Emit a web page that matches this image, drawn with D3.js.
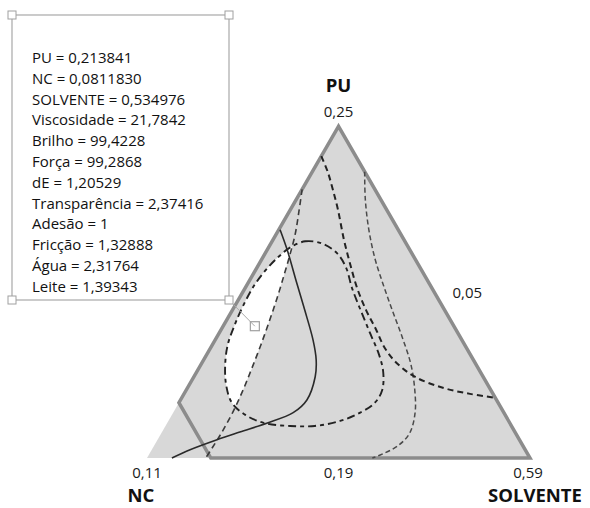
<!DOCTYPE html>
<html>
<head>
<meta charset="utf-8">
<script src="https://cdn.jsdelivr.net/npm/d3@7"></script>
<style>
  html, body { margin: 0; padding: 0; background: #fff; }
  svg { display: block; font-family: "Open Sans", "Noto Sans", sans-serif; }
</style>
</head>
<body>
<svg id="chart" width="590" height="508"></svg>
<script>
// Mixture components (amounts sum to a fixed total)
const components = ["PU", "NC", "SOLVENTE"];
const lowerBounds = [0.19, 0.05, 0.53];
const upperBounds = [0.25, 0.11, 0.59];
const vertexTickLabels = ["0,25", "0,11", "0,59"];
const edgeTickLabels = ["0,19", "0,05"];

// Feasible region of the design: NC <= 0.10
const constraintRegion = [
  [0.25, 0.05, 0.53], [0.20, 0.10, 0.53], [0.19, 0.10, 0.54], [0.19, 0.05, 0.59]
];

// Contour lines, points given as [PU, NC, SOLVENTE]
const solidContour = [
  [0.2313, 0.0685, 0.5302], [0.2277, 0.0692, 0.5331], [0.2217, 0.0707, 0.5376],
  [0.2168, 0.0719, 0.5413], [0.2114, 0.0733, 0.5453], [0.2078, 0.0746, 0.5476],
  [0.2047, 0.0763, 0.5490], [0.2005, 0.0797, 0.5498], [0.1982, 0.0830, 0.5488],
  [0.1963, 0.0881, 0.5456], [0.1947, 0.0931, 0.5422], [0.1933, 0.0974, 0.5393],
  [0.1915, 0.1025, 0.5360], [0.1900, 0.1061, 0.5339]
];
const loopContour = [
  [0.2281, 0.0685, 0.5334], [0.2292, 0.0656, 0.5352], [0.2288, 0.0632, 0.5380],
  [0.2270, 0.0617, 0.5413], [0.2244, 0.0616, 0.5440], [0.2208, 0.0625, 0.5467],
  [0.2165, 0.0632, 0.5503], [0.2123, 0.0638, 0.5539], [0.2087, 0.0643, 0.5570],
  [0.2056, 0.0652, 0.5592], [0.2023, 0.0670, 0.5607], [0.2000, 0.0693, 0.5607],
  [0.1982, 0.0725, 0.5593], [0.1967, 0.0764, 0.5569], [0.1958, 0.0808, 0.5534],
  [0.1958, 0.0847, 0.5495], [0.1963, 0.0884, 0.5453], [0.1978, 0.0907, 0.5415],
  [0.2000, 0.0917, 0.5383], [0.2032, 0.0910, 0.5358], [0.2069, 0.0893, 0.5338],
  [0.2105, 0.0871, 0.5324], [0.2141, 0.0842, 0.5317], [0.2174, 0.0813, 0.5313],
  [0.2214, 0.0774, 0.5312], [0.2244, 0.0739, 0.5317], [0.2266, 0.0709, 0.5325]
];
const leftDashContour = [
  [0.2386, 0.0614, 0.5300], [0.2346, 0.0639, 0.5315], [0.2304, 0.0666, 0.5330],
  [0.2268, 0.0692, 0.5340], [0.2232, 0.0719, 0.5349], [0.2190, 0.0751, 0.5359],
  [0.2147, 0.0785, 0.5368], [0.2105, 0.0819, 0.5376], [0.2063, 0.0854, 0.5383],
  [0.2023, 0.0888, 0.5389], [0.1983, 0.0924, 0.5393], [0.1947, 0.0959, 0.5394],
  [0.1918, 0.0989, 0.5393], [0.1900, 0.1008, 0.5392]
];
const apexDashContour = [
  [0.2446, 0.0554, 0.5300], [0.2418, 0.0558, 0.5324], [0.2386, 0.0566, 0.5348],
  [0.2350, 0.0576, 0.5374], [0.2295, 0.0594, 0.5411], [0.2252, 0.0606, 0.5442],
  [0.2208, 0.0617, 0.5475], [0.2168, 0.0623, 0.5509], [0.2132, 0.0625, 0.5543],
  [0.2099, 0.0628, 0.5573], [0.2072, 0.0623, 0.5605], [0.2047, 0.0607, 0.5646],
  [0.2027, 0.0573, 0.5700], [0.2016, 0.0536, 0.5748], [0.2009, 0.0500, 0.5791]
];
const rightDashContour = [
  [0.2418, 0.0500, 0.5382], [0.2368, 0.0524, 0.5408], [0.2313, 0.0546, 0.5441],
  [0.2259, 0.0563, 0.5478], [0.2214, 0.0573, 0.5513], [0.2168, 0.0582, 0.5550],
  [0.2118, 0.0591, 0.5591], [0.2069, 0.0602, 0.5629], [0.2023, 0.0619, 0.5658],
  [0.1982, 0.0639, 0.5679], [0.1945, 0.0666, 0.5689], [0.1922, 0.0696, 0.5682],
  [0.1905, 0.0733, 0.5662], [0.1900, 0.0747, 0.5653]
];

// Response readout at the selected point
const infoLabels = ["PU", "NC", "SOLVENTE", "Viscosidade", "Brilho", "Força", "dE",
  "Transparência", "Adesão", "Fricção", "Água", "Leite"];
const infoValues = ["0,213841", "0,0811830", "0,534976", "21,7842", "99,4228", "99,2868",
  "1,20529", "2,37416", "1", "1,32888", "2,31764", "1,39343"];
const selectedPoint = [0.213841, 0.0811830, 0.534976];

// ---- layout ----
const svg = d3.select("#chart");
const left = 147, right = 530, base = 458;
const side = right - left;
const h = Math.sqrt(3) / 2;

const pseudo = components.map((c, i) =>
  d3.scaleLinear().domain([lowerBounds[i], upperBounds[i]]).range([0, 1]));
const xScale = d3.scaleLinear().domain([0, 1]).range([left, right]);
const yScale = d3.scaleLinear().domain([0, h]).range([base, base - side * h]);

function project(d) {
  const p = pseudo[0](d[0]), n = pseudo[1](d[1]), s = pseudo[2](d[2]);
  const sum = p + n + s;
  return [xScale((s + p / 2) / sum), yScale((p * h) / sum)];
}

const lineOpen = d3.line().x(d => project(d)[0]).y(d => project(d)[1]).curve(d3.curveCatmullRom.alpha(0.5));
const lineClosed = d3.line().x(d => project(d)[0]).y(d => project(d)[1]).curve(d3.curveCatmullRomClosed.alpha(0.5));
const linePoly = d3.line().x(d => project(d)[0]).y(d => project(d)[1]);

// Simplex vertices (each component at its upper bound)
const vertices = components.map((c, i) =>
  lowerBounds.map((lb, j) => j === i ? upperBounds[j] : lb));
const [apex, vNC, vSOL] = vertices.map(project);

// full simplex background
svg.append("path")
  .attr("d", linePoly(vertices) + "Z")
  .attr("fill", "#d8d8d8");

// region where all responses meet their limits
const defs = svg.append("defs");
defs.append("clipPath").attr("id", "leftOfDash")
  .append("path")
  .attr("d", linePoly(leftDashContour.concat([vertices[1]])) + "Z");
svg.append("path")
  .attr("d", lineClosed(loopContour))
  .attr("fill", "#ffffff")
  .attr("clip-path", "url(#leftOfDash)");

// design region outline
svg.append("path")
  .attr("d", linePoly(constraintRegion) + "Z")
  .attr("fill", "none")
  .attr("stroke", "#8c8c8c")
  .attr("stroke-width", 3.5)
  .attr("stroke-linejoin", "miter");

// contour lines
const contourStyles = [
  { data: rightDashContour, closed: false, color: "#4a4a4a", width: 1.5, dash: "5,3" },
  { data: apexDashContour, closed: false, color: "#222", width: 2, dash: "6,4" },
  { data: leftDashContour, closed: false, color: "#3a3a3a", width: 1.6, dash: "6,4" },
  { data: loopContour, closed: true, color: "#222", width: 1.9, dash: "8,4,4,4" },
  { data: solidContour, closed: false, color: "#2a2a2a", width: 1.6, dash: null }
];
svg.append("g").selectAll("path")
  .data(contourStyles)
  .join("path")
  .attr("d", d => d.closed ? lineClosed(d.data) : lineOpen(d.data))
  .attr("fill", "none")
  .attr("stroke", d => d.color)
  .attr("stroke-width", d => d.width)
  .attr("stroke-dasharray", d => d.dash);

// component names and bound labels
const nameLabels = [
  { text: components[0], x: apex[0], y: apex[1] - 34 },
  { text: components[1], x: vNC[0] - 6, y: vNC[1] + 44 },
  { text: components[2], x: vSOL[0] + 5, y: vSOL[1] + 44 }
];
svg.append("g").selectAll("text")
  .data(nameLabels)
  .join("text")
  .attr("x", d => d.x).attr("y", d => d.y)
  .attr("text-anchor", "middle")
  .attr("font-size", 18.5).attr("font-weight", 700).attr("fill", "#111")
  .text(d => d.text);

const bottomMid = [(vNC[0] + vSOL[0]) / 2, vNC[1]];
const rightMid = [(apex[0] + vSOL[0]) / 2, (apex[1] + vSOL[1]) / 2];
const tickLabels = [
  { text: vertexTickLabels[0], x: apex[0], y: apex[1] - 9 },
  { text: vertexTickLabels[1], x: vNC[0], y: vNC[1] + 19.5 },
  { text: vertexTickLabels[2], x: vSOL[0] - 2, y: vSOL[1] + 19.5 },
  { text: edgeTickLabels[0], x: bottomMid[0], y: bottomMid[1] + 19.5 },
  { text: edgeTickLabels[1], x: rightMid[0] + 33, y: rightMid[1] + 6 }
];
svg.append("g").selectAll("text")
  .data(tickLabels)
  .join("text")
  .attr("x", d => d.x).attr("y", d => d.y)
  .attr("text-anchor", "middle")
  .attr("font-size", 15).attr("fill", "#1a1a1a")
  .text(d => d.text);

// readout box
const box = { x: 12, y: 15, w: 217, h: 285 };
const marker = project(selectedPoint);
svg.append("line")
  .attr("x1", box.x + box.w).attr("y1", box.y + box.h)
  .attr("x2", marker[0]).attr("y2", marker[1])
  .attr("stroke", "#aaa").attr("stroke-width", 1);
svg.append("rect")
  .attr("x", box.x).attr("y", box.y).attr("width", box.w).attr("height", box.h)
  .attr("fill", "#fff").attr("stroke", "#a8a8a8").attr("stroke-width", 1.2);
svg.append("g").selectAll("text")
  .data(infoLabels)
  .join("text")
  .attr("x", box.x + 20)
  .attr("y", (d, i) => box.y + 48 + i * 20.8)
  .attr("font-size", 15).attr("fill", "#111")
  .text((d, i) => `${d} = ${infoValues[i]}`);

const corners = [[box.x, box.y], [box.x + box.w, box.y], [box.x, box.y + box.h], [box.x + box.w, box.y + box.h]];
svg.append("g").selectAll("rect")
  .data(corners)
  .join("rect")
  .attr("x", d => d[0] - 4).attr("y", d => d[1] - 4)
  .attr("width", 8).attr("height", 8)
  .attr("fill", "#fff").attr("stroke", "#a0a0a0").attr("stroke-width", 1);

svg.append("rect")
  .attr("x", marker[0] - 4.5).attr("y", marker[1] - 4.5)
  .attr("width", 9).attr("height", 9)
  .attr("fill", "none").attr("stroke", "#a0a0a0").attr("stroke-width", 1.2);
</script>
</body>
</html>
